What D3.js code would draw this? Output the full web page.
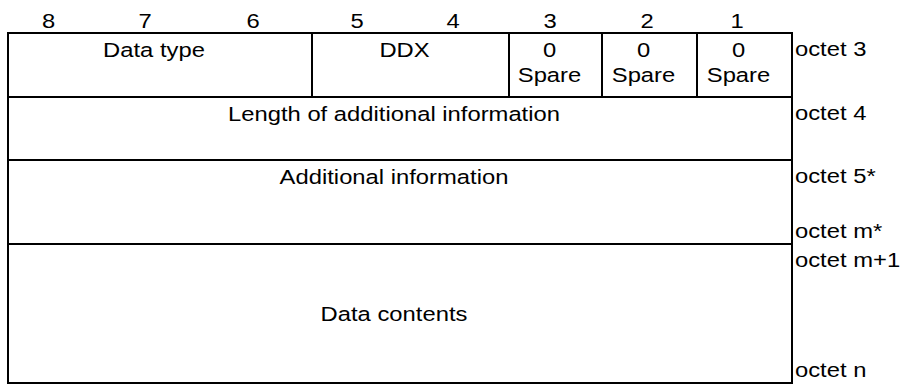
<!DOCTYPE html>
<html>
<head>
<meta charset="utf-8">
<script src="https://cdn.jsdelivr.net/npm/d3@7"></script>
<style>
  html, body { margin: 0; padding: 0; background: #fff; }
  svg { display: block; }
  text { font-family: "Liberation Sans", Arial, sans-serif; font-size: 19.5px; fill: #000; }
</style>
</head>
<body>
<svg id="chart" width="902" height="385"></svg>
<script>
// ---- data ----
const bits = [8, 7, 6, 5, 4, 3, 2, 1];
// first-octet fields: [start bit index, end bit index) counted from the left (bit 8 = 0)
const fieldLabels = ["Data type", "DDX", "0\nSpare", "0\nSpare", "0\nSpare"];
const fieldStart = [0, 3, 5, 6, 7];
const fieldEnd = [3, 5, 6, 7, 8];
// full-width rows below the first octet
const rowLabels = ["Length of additional information", "Additional information", "Data contents"];
// octet labels on the right: [row index, position within row: "top" | "bottom"]
const octetLabels = ["octet 3", "octet 4", "octet 5*", "octet m*", "octet m+1", "octet n"];
const octetRow = [0, 1, 2, 2, 3, 3];
const octetPos = ["top", "top", "top", "bottom", "top", "bottom"];

// ---- layout scales ----
const svg = d3.select("#chart");
const x = d3.scaleLinear().domain([0, 3, 5, 6, 7, 8]).range([8, 312, 509, 602, 697, 792]);
const y = d3.scaleLinear().domain([0, 1, 2, 3, 4]).range([33, 97, 160, 244, 383]);
const headerX = d3.scaleLinear().domain(bits).range([48.5, 145, 253, 357, 453, 550, 647, 737]);
const sx = 1.22;          // horizontal stretch of the glyphs
const textShift = -6;     // text sits slightly left of the cell centre
const lineGap = 25;

function label(g, str, cx, by) {
  g.append("text")
    .attr("text-anchor", "middle")
    .attr("transform", `translate(${cx},${by}) scale(${sx},1)`)
    .text(str);
}
function labelLeft(g, str, lx, by) {
  g.append("text")
    .attr("text-anchor", "start")
    .attr("transform", `translate(${lx},${by}) scale(${sx},1)`)
    .text(str);
}

// bit header
const head = svg.append("g");
bits.forEach(b => label(head, String(b), headerX(b), 28));

// lines
const lines = svg.append("g").attr("stroke", "#000").attr("stroke-width", 2).attr("fill", "none");
// horizontal
[0, 1, 2, 3, 4].forEach(r => {
  lines.append("line").attr("x1", x(0) - 1).attr("x2", x(8) + 1).attr("y1", y(r)).attr("y2", y(r));
});
// outer verticals
[0, 8].forEach(c => {
  lines.append("line").attr("x1", x(c)).attr("x2", x(c)).attr("y1", y(0)).attr("y2", y(4));
});
// internal verticals in first octet
fieldStart.slice(1).forEach(c => {
  lines.append("line").attr("x1", x(c)).attr("x2", x(c)).attr("y1", y(0)).attr("y2", y(1));
});

// first octet field labels
const fields = svg.append("g");
fieldLabels.forEach((lab, i) => {
  const cx = (x(fieldStart[i]) + x(fieldEnd[i])) / 2 + textShift;
  lab.split("\n").forEach((ln, k) => label(fields, ln, cx, y(0) + 24 + k * lineGap));
});

// full-width rows
const rows = svg.append("g");
rowLabels.forEach((lab, i) => {
  const r = i + 1;
  const cx = (x(0) + x(8)) / 2 + textShift;
  const by = (r === 3) ? (y(r) + y(r + 1)) / 2 + 7 : y(r) + 24;
  label(rows, lab, cx, by);
});

// octet labels
const oct = svg.append("g");
octetLabels.forEach((lab, i) => {
  const r = octetRow[i];
  const by = octetPos[i] === "top" ? y(r) + 23 : y(r + 1) - 6;
  labelLeft(oct, lab, x(8) + 3, by);
});
</script>
</body>
</html>
